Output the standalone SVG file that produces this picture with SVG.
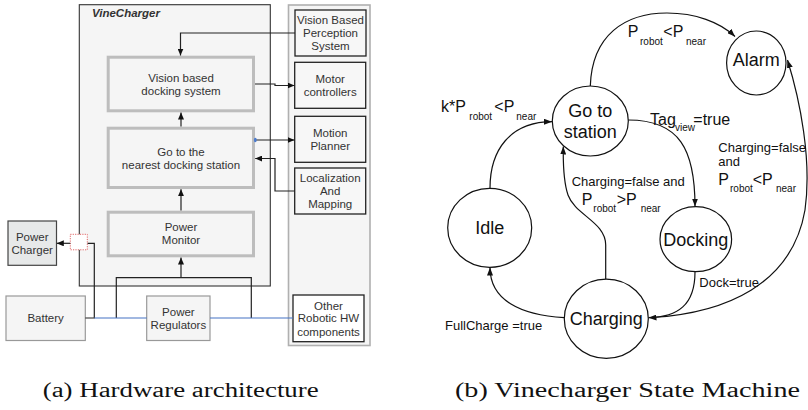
<svg xmlns="http://www.w3.org/2000/svg" width="808" height="410" viewBox="0 0 808 410">
  <style>
    .lbl { font-family: "Liberation Sans", Arial, sans-serif; font-size: 11.5px; fill: #333; text-anchor: middle; }
    .box { fill: #f7f7f7; stroke: #222; stroke-width: 1.3; }
    .soft { fill: #f5f5f5; stroke: #999; stroke-width: 1.2; }
    .thick { fill: #f5f5f5; stroke: #bdbdbd; stroke-width: 3; }
    .wire { fill: none; stroke: #222; stroke-width: 1.2; }
    .bus { fill: none; stroke: #4472c4; stroke-width: 1.2; }
    .edge { fill: none; stroke: #111; stroke-width: 1.2; }
    .state { fill: #fff; stroke: #111; stroke-width: 1.2; }
    .sname { font-family: "Liberation Sans", Arial, sans-serif; font-size: 18px; fill: #111; text-anchor: middle; }
    .cond { font-family: "Liberation Sans", Arial, sans-serif; font-size: 13px; fill: #111; }
    .big { font-family: "Liberation Sans", Arial, sans-serif; font-size: 16px; fill: #111; }
    .sub { font-family: "Liberation Sans", Arial, sans-serif; font-size: 10px; fill: #111; }
    .cap { font-family: "Liberation Serif", "Times New Roman", serif; font-size: 20px; fill: #111; }
  </style>
  <defs>
    <marker id="ah" viewBox="0 0 7 6" refX="7" refY="3" markerWidth="7" markerHeight="6" markerUnits="userSpaceOnUse" orient="auto">
      <path d="M0,0 L7,3 L0,6 z" fill="#111"/>
    </marker>
    <marker id="sh" viewBox="0 0 8 6" refX="8" refY="3" markerWidth="8" markerHeight="6" markerUnits="userSpaceOnUse" orient="auto">
      <path d="M0,0 L8,3 L0,6 z" fill="#111"/>
    </marker>
  </defs>

  <!-- (a) hardware architecture: containers -->
  <g id="vinecharger">
    <rect x="79.3" y="4.7" width="191" height="281.3" fill="#f5f5f5" stroke="#333" stroke-width="1.1"/>
    <text x="92" y="17" font-family="Liberation Sans, Arial, sans-serif" font-size="11.5" font-weight="bold" font-style="italic" fill="#333">VineCharger</text>
  </g>
  <g id="robot-panel">
    <rect x="288.5" y="5" width="81.5" height="340.5" fill="#f5f5f5" stroke="#b0b0b0" stroke-width="1.6"/>
  </g>

  <!-- VineCharger modules -->
  <g id="docking-system">
    <rect class="thick" x="108.2" y="57.2" width="145.3" height="53.6"/>
    <text class="lbl" x="181" y="81.7">Vision based</text>
    <text class="lbl" x="181" y="94.7">docking system</text>
  </g>
  <g id="goto-station">
    <rect class="thick" x="108.2" y="128.2" width="145.3" height="59.3"/>
    <text class="lbl" x="181" y="156">Go to the</text>
    <text class="lbl" x="181" y="169">nearest docking station</text>
  </g>
  <g id="power-monitor">
    <rect class="thick" x="108.2" y="212.2" width="145.3" height="43.6"/>
    <text class="lbl" x="181" y="231.3">Power</text>
    <text class="lbl" x="181" y="244.3">Monitor</text>
  </g>

  <!-- robot subsystems -->
  <g id="perception">
    <rect class="box" x="295" y="10" width="71" height="46"/>
    <text class="lbl" x="330.5" y="24">Vision Based</text>
    <text class="lbl" x="330.5" y="37">Perception</text>
    <text class="lbl" x="330.5" y="50">System</text>
  </g>
  <g id="motor-controllers">
    <rect class="box" x="294.7" y="62.3" width="71" height="46"/>
    <text class="lbl" x="330.2" y="83">Motor</text>
    <text class="lbl" x="330.2" y="95.7">controllers</text>
  </g>
  <g id="motion-planner">
    <rect class="box" x="294.7" y="116.3" width="71" height="46"/>
    <text class="lbl" x="330.2" y="137.3">Motion</text>
    <text class="lbl" x="330.2" y="150">Planner</text>
  </g>
  <g id="localization">
    <rect class="box" x="294.7" y="168" width="71" height="46"/>
    <text class="lbl" x="330.2" y="182.3">Localization</text>
    <text class="lbl" x="330.2" y="195">And</text>
    <text class="lbl" x="330.2" y="208.3">Mapping</text>
  </g>
  <g id="other-hw">
    <rect x="293" y="295" width="71" height="46.7" fill="#fff" stroke="#222" stroke-width="1.3"/>
    <text class="lbl" x="328.5" y="309.7">Other</text>
    <text class="lbl" x="328.5" y="322.3">Robotic HW</text>
    <text class="lbl" x="328.5" y="335.7">components</text>
  </g>

  <!-- power side -->
  <g id="power-charger">
    <rect x="8" y="221" width="48.5" height="44.3" fill="#e7e9e9" stroke="#444" stroke-width="1.2"/>
    <text class="lbl" x="32.2" y="241">Power</text>
    <text class="lbl" x="32.2" y="254">Charger</text>
  </g>
  <g id="battery">
    <rect class="soft" x="6" y="296" width="79.3" height="44.5"/>
    <text class="lbl" x="45.6" y="322.3">Battery</text>
  </g>
  <g id="power-regulators">
    <rect class="soft" x="146.7" y="296" width="63.3" height="44.5"/>
    <text class="lbl" x="178.4" y="316">Power</text>
    <text class="lbl" x="178.4" y="329">Regulators</text>
  </g>

  <!-- (a) connections -->
  <g id="hw-connectors">
    <path class="wire" d="M295,33 H180.5 V55.5" marker-end="url(#ah)"/>
    <path class="wire" d="M255,84 H275 V85.5 H294.5" marker-end="url(#ah)"/>
    <path class="wire" d="M181,126.5 V112.5" marker-end="url(#ah)"/>
    <path class="wire" d="M255,140 H294.5" marker-end="url(#ah)"/>
    <ellipse cx="255.3" cy="140" rx="1.4" ry="2.3" fill="#4a7bd0"/>
    <path class="wire" d="M294.7,191 H275 V158.5 H255.2" marker-end="url(#ah)"/>
    <path class="wire" d="M181,210.5 V189.2" marker-end="url(#ah)"/>
    <path class="wire" d="M181,277.7 V257.5" marker-end="url(#ah)"/>
    <path class="wire" d="M116.3,318 V277.7 H251.3 V318"/>
    <path class="wire" d="M85.3,318 H94.3 V243.3 H87.3"/>
    <rect x="70.3" y="234.3" width="17" height="15.5" fill="#fff" stroke="#e06666" stroke-width="1" stroke-dasharray="1.2 1.2"/>
    <path class="wire" d="M70.3,243.3 H56.8" marker-end="url(#ah)"/>
    <path class="bus" d="M94.3,318 H146.7"/>
    <path class="bus" d="M210,318 H293"/>
  </g>

  <!-- (b) state machine: states -->
  <g id="alarm">
    <ellipse class="state" cx="756.3" cy="63" rx="29.7" ry="32"/>
    <text class="sname" x="756.3" y="65.7">Alarm</text>
  </g>
  <g id="goto">
    <ellipse class="state" cx="590.3" cy="121" rx="38" ry="35"/>
    <text class="sname" x="590.3" y="116.7">Go to</text>
    <text class="sname" x="590.3" y="137.7">station</text>
  </g>
  <g id="idle">
    <ellipse class="state" cx="489.7" cy="227.8" rx="42" ry="39.5"/>
    <text class="sname" x="489.7" y="234">Idle</text>
  </g>
  <g id="docking">
    <ellipse class="state" cx="695.8" cy="239.2" rx="35.8" ry="32.5"/>
    <text class="sname" x="695.8" y="246">Docking</text>
  </g>
  <g id="charging">
    <ellipse class="state" cx="606.3" cy="318.7" rx="42" ry="39.6"/>
    <text class="sname" x="606.3" y="325">Charging</text>
  </g>

  <!-- (b) transitions -->
  <g id="transitions">
    <path class="edge" d="M590.3,86 C592,35 625,13 667,13 C695,13 720,22 735,36.5" marker-end="url(#sh)"/>
    <path class="edge" d="M490,188.3 C490,150 510,122 552,121.7" marker-end="url(#sh)"/>
    <path class="edge" d="M628.3,120 C680,120 695,150 695,206.5" marker-end="url(#sh)"/>
    <path class="edge" d="M605.7,279 L605.7,245 C605.7,222 575,215 568,195 C564,183 563,165 563.3,146.5" marker-end="url(#sh)"/>
    <path class="edge" d="M695,271.7 C695,305 678,317 648.5,317.7" marker-end="url(#sh)"/>
    <path class="edge" d="M652,317.5 C725,313 792,285 805,210 C812,160 800,100 787.5,60" marker-end="url(#sh)"/>
    <path class="edge" d="M564.3,317.7 C520,315 490,300 490,267.5" marker-end="url(#sh)"/>
  </g>

  <!-- transition conditions -->
  <g id="conditions">
    <text class="big" x="627.7" y="37.3">P</text>
    <text class="sub" x="640" y="45">robot</text>
    <text class="big" x="663.3" y="37.3">&lt;P</text>
    <text class="sub" x="686" y="45">near</text>

    <text class="big" x="441" y="111.7">k*P</text>
    <text class="sub" x="469.3" y="120">robot</text>
    <text class="big" x="494.3" y="111.7">&lt;P</text>
    <text class="sub" x="516.3" y="120">near</text>

    <text class="big" x="650" y="125" font-size="14">Tag</text>
    <text class="sub" x="675" y="131" font-size="8">view</text>
    <text class="big" x="693.3" y="125" font-size="15">=true</text>

    <text class="cond" x="718.3" y="151.7">Charging=false</text>
    <text class="cond" x="718.3" y="165.7">and</text>
    <text class="big" x="718.3" y="185">P</text>
    <text class="sub" x="730" y="191.7">robot</text>
    <text class="big" x="752.7" y="185">&lt;P</text>
    <text class="sub" x="776" y="191.7">near</text>

    <text class="cond" x="571.7" y="185.7">Charging=false and</text>
    <text class="big" x="581.7" y="205">P</text>
    <text class="sub" x="593.3" y="211.7">robot</text>
    <text class="big" x="616.7" y="205">&gt;P</text>
    <text class="sub" x="640.7" y="211.7">near</text>

    <text class="cond" x="699.3" y="286.7">Dock=true</text>
    <text class="cond" x="445" y="330" font-size="12.7">FullCharge =true</text>
  </g>

  <!-- captions -->
  <text class="cap" x="42.7" y="396.7" textLength="276" lengthAdjust="spacingAndGlyphs">(a) Hardware architecture</text>
  <text class="cap" x="455" y="396.7" textLength="345" lengthAdjust="spacingAndGlyphs">(b) Vinecharger State Machine</text>
</svg>
